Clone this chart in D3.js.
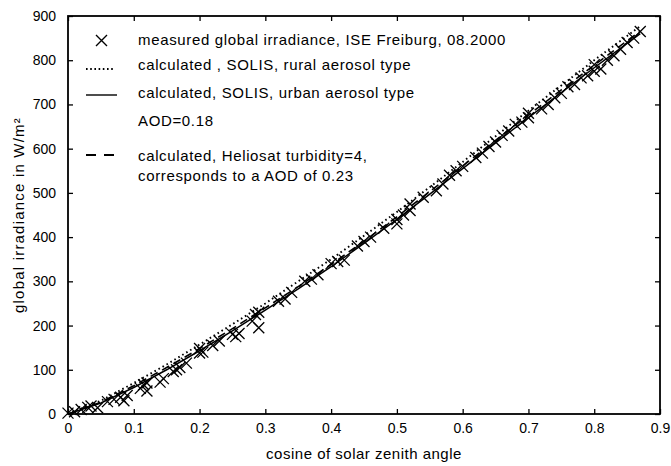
<!DOCTYPE html>
<html><head><meta charset="utf-8">
<script src="https://cdn.jsdelivr.net/npm/d3@7"></script>
<style>body{margin:0;background:#fff}svg{display:block}text{font-family:"Liberation Sans",Arial,sans-serif;fill:#000}</style>
</head><body><svg id="c" width="671" height="466"></svg>
<script>
const xTicks = [0,0.1,0.2,0.3,0.4,0.5,0.6,0.7,0.8,0.9];
const yTicks = [0,100,200,300,400,500,600,700,800,900];
const measuredX = [0,0.01,0.02,0.03,0.035,0.045,0.06,0.07,0.08,0.085,0.09,0.11,0.115,0.12,0.12,0.14,0.145,0.16,0.165,0.17,0.18,0.2,0.2,0.205,0.22,0.23,0.25,0.255,0.26,0.28,0.285,0.29,0.29,0.32,0.33,0.34,0.36,0.37,0.38,0.4,0.41,0.42,0.44,0.45,0.46,0.48,0.5,0.5,0.51,0.52,0.52,0.54,0.56,0.57,0.58,0.59,0.6,0.62,0.63,0.64,0.65,0.66,0.67,0.68,0.69,0.7,0.7,0.72,0.73,0.74,0.75,0.76,0.77,0.78,0.79,0.8,0.8,0.81,0.82,0.83,0.84,0.85,0.86,0.87];
const measuredY = [2,5,10,15,18,14,28,33,38,30,42,58,66,52,70,72,80,96,100,105,115,138,148,140,155,165,180,175,182,210,225,195,230,255,260,275,300,305,315,340,345,348,380,390,400,420,430,440,450,460,475,490,505,520,540,550,560,580,590,605,615,630,640,655,660,670,680,690,700,715,725,740,745,760,765,775,790,780,800,810,825,840,850,865];
const curveX = [0,0.05,0.1,0.15,0.2,0.25,0.3,0.35,0.4,0.45,0.5,0.55,0.6,0.65,0.7,0.75,0.8,0.85,0.87];
const ruralY = [0,30,70,112,157,203,250,300,350,403,457,513,570,628,686,743,800,855,877];
const urbanY = [0,25,60,100,143,188,235,283,333,386,440,497,555,613,670,727,783,838,860];
const helioY = [0,27,64,105,148,193,240,288,338,391,446,503,561,619,676,733,789,844,866];
const legendLabels = ["measured global irradiance, ISE Freiburg, 08.2000","calculated , SOLIS, rural aerosol type","calculated, SOLIS, urban aerosol type","AOD=0.18","calculated, Heliosat turbidity=4,","corresponds to a AOD of 0.23"];

const svg = d3.select("#c");
const L=68,R=660,T=16,B=414;
const x = d3.scaleLinear().domain([0,0.9]).range([L,R]);
const y = d3.scaleLinear().domain([0,900]).range([B,T]);

const g = svg.append("g");
g.append("rect").attr("x",L).attr("y",T).attr("width",R-L).attr("height",B-T).attr("fill","none").attr("stroke","#000").attr("stroke-width",1.8);
const xa = g.append("g").attr("transform",`translate(0,${B})`).call(d3.axisBottom(x).tickValues(xTicks).tickFormat(d=>d3.format("")(d)).tickSizeInner(-5).tickSizeOuter(0).tickPadding(9));
const xt = g.append("g").attr("transform",`translate(0,${T})`).call(d3.axisTop(x).tickValues(xTicks).tickFormat("").tickSizeInner(-5).tickSizeOuter(0));
const ya = g.append("g").attr("transform",`translate(${L},0)`).call(d3.axisLeft(y).tickValues(yTicks).tickSizeInner(-5).tickSizeOuter(0).tickPadding(12));
const yr = g.append("g").attr("transform",`translate(${R},0)`).call(d3.axisRight(y).tickValues(yTicks).tickFormat("").tickSizeInner(-5).tickSizeOuter(0));
[xa,xt,ya,yr].forEach(a=>{a.select(".domain").remove();a.selectAll("line").attr("stroke","#000").attr("stroke-width",1.3);a.selectAll("text").attr("font-size",14).attr("font-family","Liberation Sans, Arial, sans-serif");});

const line = d3.line().x((d,i)=>x(curveX[i])).y(d=>y(d));
g.append("path").attr("d",line(ruralY)).attr("fill","none").attr("stroke","#000").attr("stroke-width",1.9).attr("stroke-dasharray","1.6,3");
g.append("path").attr("d",line(helioY)).attr("fill","none").attr("stroke","#000").attr("stroke-width",1.6).attr("stroke-dasharray","8,5");
g.append("path").attr("d",line(urbanY)).attr("fill","none").attr("stroke","#000").attr("stroke-width",1.5);

const s=5.5;
g.append("g").selectAll("path").data(measuredX).join("path")
 .attr("d",(d,i)=>{const cx=x(d),cy=y(measuredY[i]);return `M${cx-s},${cy-s}L${cx+s},${cy+s}M${cx-s},${cy+s}L${cx+s},${cy-s}`;})
 .attr("stroke","#000").attr("stroke-width",1.3).attr("fill","none");

const lg = svg.append("g");
const tx=138;
lg.append("path").attr("d","M96,35L107,46M96,46L107,35").attr("stroke","#000").attr("stroke-width",1.4);
lg.append("line").attr("x1",86).attr("x2",115).attr("y1",69).attr("y2",69).attr("stroke","#000").attr("stroke-width",1.9).attr("stroke-dasharray","1.6,2.6");
lg.append("line").attr("x1",86).attr("x2",117).attr("y1",95).attr("y2",95).attr("stroke","#000").attr("stroke-width",1.4);
lg.append("line").attr("x1",86).attr("x2",120).attr("y1",155).attr("y2",155).attr("stroke","#000").attr("stroke-width",2.2).attr("stroke-dasharray","10,8");
const ly=[40,65,93,121,156,176];
legendLabels.forEach((t,i)=>lg.append("text").attr("x",tx).attr("y",ly[i]).attr("dy","0.35em").attr("font-size",15).attr("letter-spacing",0.65).text(t));

svg.append("text").attr("x",(L+R)/2).attr("y",459).attr("text-anchor","middle").attr("font-size",15).attr("letter-spacing",0.5).text("cosine of solar zenith angle");
svg.append("text").attr("transform",`translate(24,${(T+B)/2}) rotate(-90)`).attr("text-anchor","middle").attr("font-size",15).attr("letter-spacing",1.2).text("global irradiance in W/m²");
</script></body></html>
